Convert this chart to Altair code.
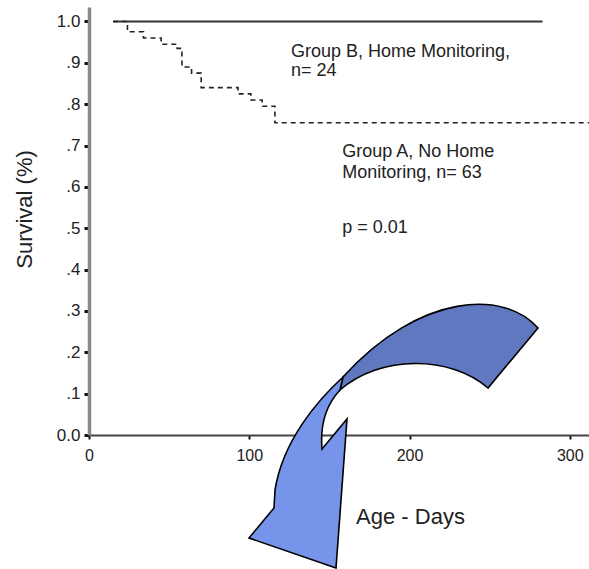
import base64
import altair as alt
import pandas as pd

# ---- data ----
days_b = [15, 283]
surv_b = [1.0, 1.0]

days_a = [15, 24, 34, 45, 55, 58, 64, 70, 93, 101, 108, 116, 312]
surv_a = [1.0, 0.975, 0.96, 0.945, 0.935, 0.89, 0.875, 0.84, 0.825, 0.81, 0.795, 0.755, 0.755]

note_text = ["Group B, Home Monitoring,", "n= 24", "Group A, No Home",
             "Monitoring, n= 63", "p = 0.01"]
note_day = [126, 126, 158, 158, 158]
note_surv = [0.915, 0.867, 0.673, 0.622, 0.489]

y_ticks = [0.0, 0.1, 0.2, 0.3, 0.4, 0.5, 0.6, 0.7, 0.8, 0.9, 1.0]
x_ticks = [0, 100, 200, 300]

# ---- layout / style constants ----
W, H = 500, 428
PAD_L, PAD_T = 89, 7
FONT = "Liberation Sans"

df_b = pd.DataFrame({"day": days_b, "surv": surv_b})
df_a = pd.DataFrame({"day": days_a, "surv": surv_a})
df_n = pd.DataFrame({"day": note_day, "surv": note_surv, "txt": note_text})

xs = alt.Scale(domain=[0, 312], nice=False, zero=False)
ys = alt.Scale(domain=[0, 1.035], nice=False, zero=False)

x_axis = alt.Axis(values=x_ticks, title="Age - Days", grid=False,
                  domainColor="#444", domainWidth=2, tickColor="#111",
                  tickSize=4, tickWidth=2, labelPadding=8, labelFontSize=16,
                  labelColor="#222", labelFont=FONT, labelFlush=False,
                  titleFont=FONT, titleFontSize=22, titleFontWeight="normal",
                  titleColor="#222", titleX=321, titleY=88,
                  titleAlign="center", titleBaseline="alphabetic")
y_axis = alt.Axis(values=y_ticks, title="Survival (%)", grid=False,
                  labelExpr="datum.value == 0 ? '0.0' : datum.value == 1 ? '1.0' : replace(format(datum.value, '.1f'), '0.', '.')",
                  domainColor="#8a8a8a", domainWidth=3.5, tickColor="#111",
                  tickSize=5, tickWidth=3, labelPadding=4, labelFontSize=17,
                  labelColor="#222", labelFont=FONT,
                  titleFont=FONT, titleFontSize=22, titleFontWeight="normal",
                  titleColor="#222", titleX=-58, titleY=202, titleAngle=-90,
                  titleAlign="center", titleBaseline="alphabetic")

line_b = alt.Chart(df_b).mark_line(color="#333", strokeWidth=2).encode(
    x=alt.X("day:Q", scale=xs, axis=x_axis),
    y=alt.Y("surv:Q", scale=ys, axis=y_axis),
)
line_a = alt.Chart(df_a).mark_line(color="#222", strokeWidth=1.6,
                                   strokeDash=[5, 4], interpolate="step-after").encode(
    x=alt.X("day:Q", scale=xs),
    y=alt.Y("surv:Q", scale=ys),
)
notes = alt.Chart(df_n).mark_text(align="left", baseline="alphabetic",
                                  font=FONT, fontSize=18, color="#222").encode(
    x=alt.X("day:Q", scale=xs),
    y=alt.Y("surv:Q", scale=ys),
    text="txt:N",
)

# decorative curved arrow overlay (page-pixel SVG)
arrow_svg = (
    '<svg xmlns="http://www.w3.org/2000/svg" width="589" height="569" viewBox="0 0 589 569">'
    '<path d="M 538 328 C 505 290, 420 292, 343 377 L 340 390 C 380 355, 450 355, 488 388 Z" '
    'fill="#5f78c0" stroke="#000" stroke-width="1.6" stroke-linejoin="miter"/>'
    '<path d="M 343 377 C 318 400, 283 440, 275 490 L 274 508 L 249 538 L 336 568 L 347 419 '
    'L 322 449 C 320 425, 326 405, 340 390 Z" '
    'fill="#7594ea" stroke="#000" stroke-width="1.6" stroke-linejoin="miter"/>'
    '</svg>'
)
arrow_url = "data:image/svg+xml;base64," + base64.b64encode(arrow_svg.encode()).decode()
arrow = alt.Chart(pd.DataFrame({"u": [arrow_url]})).mark_image(
    width=589, height=569, aspect=False, align="left", baseline="top"
).encode(url="u:N", x=alt.value(-PAD_L), y=alt.value(-PAD_T))

chart = alt.layer(line_b, line_a, notes, arrow).properties(
    width=W, height=H,
    autosize=alt.AutoSizeParams(type="none"),
    padding={"left": PAD_L, "top": PAD_T, "right": 0, "bottom": 569 - PAD_T - H},
    background="white",
).configure_view(stroke=None)

chart.save("out.html", embed_options={"renderer": "svg", "actions": False})
